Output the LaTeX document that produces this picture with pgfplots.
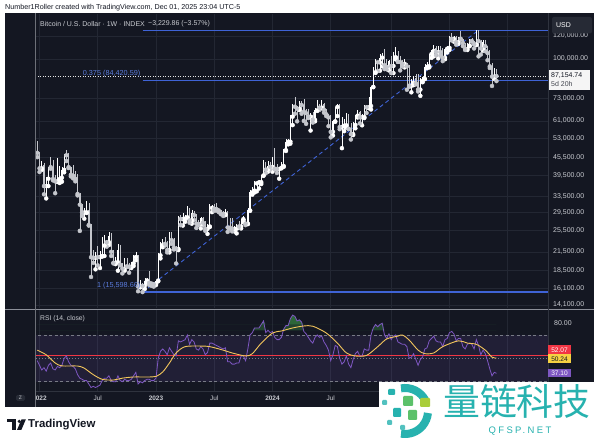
\documentclass[border=0pt]{standalone}
\usepackage{pgfplots}
\pgfplotsset{compat=1.18}
\usepackage{pgfplotstable}
\usepackage{fontspec}
\setmainfont{Liberation Sans}
\newfontfamily\cjk{Noto Sans CJK SC}
\newfontfamily\wmfont[LetterSpace=25]{Liberation Sans}
\definecolor{bg}{HTML}{141722}
\definecolor{gridc}{HTML}{232733}
\definecolor{txt}{HTML}{C9CBD1}
\definecolor{fibc}{HTML}{3F63D6}
\definecolor{fibtxt}{HTML}{5A7BDB}
\definecolor{rsic}{HTML}{7E57C2}
\definecolor{mac}{HTML}{F2C55C}
\definecolor{redl}{HTML}{F23645}
\definecolor{upc}{HTML}{FFFFFF}
\definecolor{downc}{HTML}{C4C6CC}
\definecolor{dashc}{HTML}{787B86}
\definecolor{greenf}{HTML}{3D9A4A}
\definecolor{wmteal}{HTML}{27B2AF}
\definecolor{wmgreen}{HTML}{5CC16A}
\definecolor{wmlime}{HTML}{A9CD3A}
\definecolor{sepc}{HTML}{8C8F99}
\definecolor{bordc}{HTML}{2F333E}
\definecolor{usdbg}{HTML}{262A35}
\definecolor{yelbox}{HTML}{F5D142}
\definecolor{tvdark}{HTML}{131722}
\newcommand{\fs}[1]{\fontsize{#1}{#1}\selectfont}

\pgfplotstableread{
w o h l c
-1 50800 52100 45700 47300
0 47300 47600 40600 41800
1 41800 44400 41300 43100
2 43100 43500 34000 36300
3 36300 38900 32900 38500
4 38500 42000 36300 42400
5 42400 45800 41700 42200
6 42200 44800 38000 38400
7 38400 39800 34300 37700
8 37700 45400 37500 38400
9 38400 42600 37200 38800
10 38800 42400 37600 41300
11 41300 47000 40500 46800
12 46800 48200 44300 46400
13 46400 47300 41900 42200
14 42200 42400 39200 39700
15 39700 42900 38600 39400
16 39400 40800 37700 38500
17 38500 40000 33700 34100
18 34100 34300 25400 31300
19 31300 31400 28600 29400
20 29400 30600 28000 29450
21 29450 32200 29300 29900
22 29900 31700 26500 26600
23 26600 26800 17600 20600
24 20600 21900 19700 20500
25 20500 21500 18700 20800
26 20800 22500 19300 20600
27 20600 21600 18900 20800
28 20800 24200 20700 22600
29 22600 24600 20800 23300
30 23300 23600 22400 23200
31 23200 25200 22700 24300
32 24300 25000 20800 21500
33 21500 21900 19600 19700
34 19700 20600 19500 19800
35 19800 22800 18500 21800
36 21800 22700 19300 19400
37 19400 19700 18100 18800
38 18800 20400 18500 19300
39 19300 20500 19050 19150
40 19150 19600 18200 19100
41 19100 19800 18900 19600
42 19600 21000 19200 20600
43 20600 21500 20100 20900
44 20900 21000 15700 16300
45 16300 17200 16200 16700
46 16700 16800 15600 16400
47 16400 17400 16000 17100
48 17100 17400 16800 17200
49 17200 18400 16500 16800
50 16800 16950 16400 16700
51 16700 16900 16300 16600
52 16600 17200 16500 17100
53 17100 21300 17000 20900
54 20900 23300 20400 22700
55 22700 23800 22300 23000
56 23000 24200 22600 22900
57 22900 23400 21400 21800
58 21800 25200 21400 24600
59 24600 25200 22900 23600
60 23600 24000 21900 22200
61 22200 22600 19600 22000
62 22000 28500 21800 28000
63 28000 28900 26600 27900
64 27900 29200 26500 28000
65 28000 28800 27300 28300
66 28300 31000 28200 30300
67 30300 30500 27100 27600
68 27600 30000 26900 29200
69 29200 29800 27700 28800
70 28800 29000 26000 26900
71 26900 27600 26600 26800
72 26800 28400 25900 28100
73 28100 28400 26500 27100
74 27100 27400 25400 25800
75 25800 26800 24800 26300
76 26300 31400 26200 30500
77 30500 31300 29500 30600
78 30600 31500 29800 30300
79 30300 31800 29900 30200
80 30200 30400 29500 29900
81 29900 30000 29000 29200
82 29200 29700 28600 29000
83 29000 30200 28800 29300
84 29300 29700 25200 26100
85 26100 28200 25800 26050
86 26050 28100 25300 25800
87 25800 26400 25300 25850
88 25850 26900 24900 26500
89 26500 27500 26000 26300
90 26300 28000 25900 27900
91 27900 28600 27200 27950
92 27950 28000 26600 26900
93 26900 30500 26800 29900
94 29900 35200 29800 34500
95 34500 35900 33900 35000
96 35000 37900 34500 37100
97 37100 37900 34800 37400
98 37400 38000 35600 37450
99 37450 39800 36900 39500
100 39500 44700 39400 43700
101 43700 43800 40200 41400
102 41400 44400 40700 42500
103 42500 43800 41400 42300
104 42300 45900 40700 43900
105 43900 49000 41500 41700
106 41700 43300 40300 41600
107 41600 42200 38500 42000
108 42000 43800 41800 42600
109 42600 48600 42300 48300
110 48300 52800 48000 51600
111 51600 52900 50600 51700
112 51700 64000 50900 63100
113 63100 70000 59000 68900
114 68900 73800 64600 68300
115 68300 68900 60800 67200
116 67200 71700 66500 69700
117 69700 71300 64600 69300
118 69300 72800 61000 65700
119 65700 66900 59600 64900
120 64900 67200 62400 63100
121 63100 64800 56500 64000
122 64000 65500 60200 61500
123 61500 67500 60800 66300
124 66300 71900 66100 69300
125 69300 70000 66600 67800
126 67800 71900 67500 69600
127 69600 70200 65100 66700
128 66700 67200 63400 64300
129 64300 64600 58500 62700
130 62700 63800 53500 55900
131 55900 61400 54300 60800
132 60800 68300 60600 68200
133 68200 70000 63400 68300
134 68300 70000 57100 58100
135 58100 62700 49100 58700
136 58700 61800 56200 58900
137 58900 65000 57800 64200
138 64200 64500 57200 57300
139 57300 59800 52600 54900
140 54900 60600 54500 59100
141 59100 64100 57500 63600
142 63600 66500 62700 65600
143 65600 66000 59800 62800
144 62800 64500 58900 62900
145 62900 69400 62400 69000
146 69000 69500 65000 68000
147 68000 73600 67500 68700
148 68700 80300 66800 80000
149 80000 93400 79800 89800
150 89800 99600 89400 97900
151 97900 98700 90800 97300
152 97300 104000 91000 101000
153 101000 105000 94200 104500
154 104500 108300 92200 95100
155 95100 99900 92000 93700
156 93700 99000 91200 98400
157 98400 102700 89300 94500
158 94500 106000 89300 101300
159 101300 109600 99600 102600
160 102600 106400 97600 97700
161 97700 102500 91200 97500
162 97500 98800 94100 96100
163 96100 99500 93400 96300
164 96300 96500 78200 94300
165 94300 95000 80000 80700
166 80700 85300 76600 82600
167 82600 87500 81100 86100
168 86100 88800 81600 82400
169 82400 88500 77100 78300
170 78300 86000 74500 83800
171 83800 86500 83000 85200
172 85200 95800 85100 93800
173 93800 97900 92800 94300
174 94300 104300 93400 104000
175 104000 107000 100800 106500
176 106500 112000 102000 109000
177 109000 110700 103100 105600
178 105600 110500 100400 105700
179 105700 110600 102700 105500
180 105500 108900 98200 100900
181 100900 108800 99700 108400
182 108400 110500 105200 109200
183 109200 119500 107400 119100
184 119100 123200 115800 117300
185 117300 120200 114700 119400
186 119400 119800 112000 114200
187 114200 119400 112700 119300
188 119300 124500 116800 117400
189 117400 117600 110700 113500
190 113500 113600 107300 108200
191 108200 113400 107300 111200
192 111200 116800 110600 115300
193 115300 118000 114800 115200
194 115200 115400 108600 112200
195 112200 125500 111600 123500
196 123500 125714 102000 115200
197 115200 116000 103500 108700
198 108700 116000 106700 114500
199 114500 116400 106300 110600
200 110600 111200 98900 104700
201 104700 107500 93000 94200
202 94200 96600 80600 86800
203 86800 93100 85300 90385
204 90385 91900 83800 87155
}\candles

\pgfplotstableread{
w r
-1 48
0 44
1 40
2 42
3 39
4 44
5 46
6 41
7 40
8 43
9 42
10 44
11 50
12 52
13 47
14 44
15 43
16 41
17 36
18 33
19 32
20 31
21 31
22 28
23 25
24 26
25 25
26 26
27 27
28 31
29 33
30 33
31 35
32 31
33 30
34 30
35 35
36 31
37 30
38 32
39 31
40 31
41 32
42 35
43 38
44 28
45 30
46 29
47 31
48 32
49 32
50 31
51 31
52 33
53 50
54 56
55 58
56 56
57 53
58 59
59 56
60 53
61 52
62 65
63 64
64 65
65 66
66 70
67 62
68 66
69 64
70 58
71 57
72 60
73 58
74 53
75 55
76 63
77 63
78 62
79 61
80 60
81 59
82 58
83 59
84 47
85 47
86 45
87 45
88 46
89 46
90 52
91 52
92 48
93 58
94 70
95 72
96 76
97 76
98 76
99 79
100 82
101 72
102 74
103 72
104 73
105 68
106 66
107 66
108 68
109 75
110 78
111 78
112 84
113 87
114 86
115 82
116 83
117 81
118 73
119 71
120 68
121 65
122 63
123 68
124 70
125 68
126 69
127 64
128 61
129 57
130 48
131 53
132 61
133 60
134 50
135 45
136 47
137 52
138 45
139 42
140 49
141 54
142 56
143 52
144 52
145 58
146 57
147 57
148 70
149 76
150 79
151 77
152 79
153 80
154 70
155 67
156 71
157 66
158 69
159 70
160 64
161 63
162 62
163 62
164 60
165 50
166 51
167 54
168 49
169 44
170 49
171 51
172 58
173 59
174 65
175 67
176 69
177 65
178 64
179 64
180 60
181 66
182 67
183 72
184 73
185 71
186 65
187 67
188 67
189 60
190 58
191 62
192 63
193 62
194 58
195 66
196 61
197 53
198 57
199 54
200 48
201 41
202 35
203 38
204 37.1
}\rsidata

\pgfplotstableread{
w m
-1 57
3 53
7 46
10 43.5
17 43.4
20 41.5
24 36
28 32
33 31.4
37 33
42 34
48 34
52 34.5
55 38.3
58 46
61 54.6
65 60
72 60.5
76 60
82 57
86 54.6
92 52
95 54
99 63
104 71.7
108 73.4
113 76
118 77.7
122 77.5
128 71.7
133 63
137 54.6
141 52
146 52.5
151 60
155 66.6
160 69
162 70
165 65.7
169 57
172 54
176 54.6
180 60
187 65
191 63
195 62
199 57
202 51
204 50.24
}\madata

\begin{document}
\begin{tikzpicture}[x=1bp,y=1bp]
\useasboundingbox (0,0) rectangle (600,442);
\fill[white] (0,0) rectangle (600,442);
\fill[bg] (5,35) rectangle (594,428.5);

% ---------------- main price pane ----------------
\begin{axis}[
  at={(35bp,134bp)}, anchor=south west, scale only axis,
  width=513bp, height=294bp,
  xmin=-2.009, xmax=227,
  ymin=9.52836, ymax=11.87050,
  axis line style={draw=none},
  xtick={0,26,52,78,104,130,157,183,209}, xticklabels={},
  ytick={9.553930,9.686575,9.825526,9.975808,10.146434,10.292146,10.419301,10.584056,10.725467,10.878047,11.018629,11.198215,11.512925,11.695247},
  yticklabels={{14,100.00},{16,100.00},{18,500.00},{21,500.00},{25,500.00},{29,500.00},{33,500.00},{39,500.00},{45,500.00},{53,000.00},{61,000.00},{73,000.00},{100,000.00},{120,000.00}},
  yticklabel pos=right,
  yticklabel style={anchor=west, inner sep=0pt, xshift=5bp, text=txt, font=\fs{7}},
  major tick length=0pt,
  xmajorgrids, ymajorgrids,
  major grid style={gridc, line width=0.5bp},
]
% Fibonacci levels
\addplot[fibc, line width=1.2bp] table[row sep=\\, x=w, y expr={ln(\thisrow{p})}] {w p\\ 46 125714\\ 228 125714\\};
\addplot[fibc, line width=1.2bp] table[row sep=\\, x=w, y expr={ln(\thisrow{p})}] {w p\\ 46 84420.59\\ 228 84420.59\\};
\addplot[fibc, line width=1.2bp] table[row sep=\\, x=w, y expr={ln(\thisrow{p})}] {w p\\ 46 15598.66\\ 228 15598.66\\};
\addplot[fibc, line width=0.9bp, dash pattern=on 4bp off 3bp] table[row sep=\\, x=w, y expr={ln(\thisrow{p})}] {w p\\ 46 15598.66\\ 196 125714\\};
% current price line
\addplot[white!80!gray, line width=0.5bp, dash pattern=on 1bp off 1.5bp] table[row sep=\\, x=w, y expr={ln(\thisrow{p})}] {w p\\ -3 87154.74\\ 228 87154.74\\};
% wicks (rows of the other colour are sent below the axis, where they are clipped)
\addplot[color=upc, only marks, mark=none, error bars/.cd, y dir=plus, y explicit, error mark=none,
  error bar style={line width=0.55bp, color=upc, line cap=butt}]
  table[x=w, y expr={\thisrow{c}>\thisrow{o} ? ln(\thisrow{l}) : 1}, y error plus expr={\thisrow{c}>\thisrow{o} ? ln(\thisrow{h})-ln(\thisrow{l}) : 0}] {\candles};
\addplot[color=downc, only marks, mark=none, error bars/.cd, y dir=plus, y explicit, error mark=none,
  error bar style={line width=0.55bp, color=downc, line cap=butt}]
  table[x=w, y expr={\thisrow{c}<\thisrow{o} ? ln(\thisrow{l}) : 1}, y error plus expr={\thisrow{c}<\thisrow{o} ? ln(\thisrow{h})-ln(\thisrow{l}) : 0}] {\candles};
% bodies
\addplot[color=upc, only marks, mark=none, error bars/.cd, y dir=plus, y explicit, error mark=none,
  error bar style={line width=1.2bp, color=upc, line cap=butt}]
  table[x=w, y expr={\thisrow{c}>\thisrow{o} ? ln(\thisrow{o}) : 1}, y error plus expr={\thisrow{c}>\thisrow{o} ? ln(\thisrow{c})-ln(\thisrow{o}) : 0}] {\candles};
\addplot[color=downc, only marks, mark=none, error bars/.cd, y dir=plus, y explicit, error mark=none,
  error bar style={line width=1.2bp, color=downc, line cap=butt}]
  table[x=w, y expr={\thisrow{c}<\thisrow{o} ? ln(\thisrow{c}) : 1}, y error plus expr={\thisrow{c}<\thisrow{o} ? ln(\thisrow{o})-ln(\thisrow{c}) : 0}] {\candles};
\end{axis}

% ---------------- RSI pane ----------------
\begin{axis}[
  at={(35bp,51bp)}, anchor=south west, scale only axis,
  width=513bp, height=81bp,
  xmin=-2.009, xmax=227, ymin=22, ymax=91.4,
  axis line style={draw=none},
  xtick={0,26,52,78,104,130,157,183,209},
  xticklabels={\textbf{2022},Jul,\textbf{2023},Jul,\textbf{2024},Jul,{},{},{}},
  xticklabel style={anchor=center, yshift=-7bp, inner sep=0pt, text=txt, font=\fs{6.5}},
  ytick={80}, yticklabels={},
  major tick length=0pt,
  xmajorgrids, major grid style={gridc, line width=0.5bp},
]
\addplot[fill=rsic, fill opacity=0.13, draw=none] coordinates {(-3,30) (228,30) (228,70) (-3,70)} -- cycle;
\addplot[draw=dashc, dash pattern=on 3bp off 2.5bp, line width=0.5bp] coordinates {(-3,70) (228,70)};
\addplot[draw=dashc, dash pattern=on 3bp off 2.5bp, line width=0.5bp] coordinates {(-3,30) (228,30)};
\addplot[draw=dashc, dash pattern=on 1bp off 2bp, line width=0.4bp] coordinates {(-3,50) (228,50)};
\addplot[redl, line width=1bp] coordinates {(-3,52.07) (228,52.07)};
\addplot[fill=greenf, fill opacity=0.35, draw=none] table[x=w, y expr={\thisrow{r}<74 ? 74 : \thisrow{r}}] {\rsidata} -- cycle;
\addplot[fill=greenf, fill opacity=0.4, draw=none] table[x=w, y expr={\thisrow{r}<79 ? 79 : \thisrow{r}}] {\rsidata} -- cycle;
\addplot[rsic, line width=0.8bp] table[x=w,y=r] {\rsidata};
\addplot[mac, line width=0.9bp, smooth, tension=0.5] table[x=w,y=m] {\madata};
\end{axis}

% ---------------- frame lines ----------------
\draw[sepc, line width=0.8bp] (5,133) -- (594,133);
\draw[bordc, line width=0.6bp] (5,51) -- (594,51);
\draw[bordc, line width=0.6bp] (548,35) -- (548,428.5);
\draw[bordc!70!white, line width=0.6bp] (35,35) -- (35,428.5);
\fill[bg] (5,36) rectangle (34.6,50.5);
\fill[usdbg, rounded corners=1.5bp] (16,41) rectangle (25,47);
\node[text=txt, inner sep=0pt] at (20.5,44) {\fs{5}Z};

% ---------------- texts ----------------
\node[anchor=west, inner sep=0pt, text=tvdark] at (5,434) {\fs{7.2}Number1Roller created with TradingView.com, Dec 01, 2025 23:04 UTC-5};
\node[anchor=west, inner sep=0pt, text=txt] at (40,418) {\fs{7}Bitcoin / U.S. Dollar · 1W · INDEX};
\node[anchor=west, inner sep=0pt, text=txt] at (148,418) {\fs{7}−3,229.86 (−3.57\%)};
\node[anchor=east, inner sep=0pt, text=fibtxt] at (140.5,368) {\fs{7.3}0.375 (84,420.59)};
\node[anchor=east, inner sep=0pt, text=fibtxt] at (140.5,156) {\fs{7.3}1 (15,598.66)};
\node[anchor=west, inner sep=0pt, text=txt] at (40,123) {\fs{6.8}RSI (14, close)};

% price scale labels
\fill[usdbg, rounded corners=2bp] (552,408.5) rectangle (592,425);
\node[anchor=west, inner sep=0pt, text=white] at (556,417) {\fs{7}USD};
\fill[white!92!gray] (549,352) rectangle (590,372);
\node[anchor=west, inner sep=0pt, text=tvdark] at (551,366) {\fs{7}87,154.74};
\node[anchor=west, inner sep=0pt, text=tvdark!80!white] at (551,357.5) {\fs{7}5d 20h};

% RSI scale labels
\node[anchor=west, inner sep=0pt, text=txt] at (554,119) {\fs{7}80.00};
\fill[redl] (548,88) rectangle (571,96.5);
\node[text=white, inner sep=0pt] at (559.5,92.2) {\fs{6.6}52.07};
\fill[yelbox] (548,79) rectangle (571,87.5);
\node[text=tvdark, inner sep=0pt] at (559.5,83.2) {\fs{6.6}50.24};
\fill[rsic] (548,64.5) rectangle (571,73);
\node[text=white, inner sep=0pt] at (559.5,68.7) {\fs{6.6}37.10};

% ---------------- TradingView brand ----------------
\fill[tvdark] (7,19.5) rectangle (16,22.5);
\fill[tvdark] (11.5,12) rectangle (15.5,22.5);
\fill[tvdark] (19.3,20.6) circle (1.7);
\fill[tvdark] (17,12) -- (21.3,12) -- (25.8,22.5) -- (21.5,22.5) -- cycle;
\node[anchor=west, inner sep=0pt, text=tvdark] at (28,17) {\fs{11.5}\bfseries TradingView};

% ---------------- watermark ----------------
\fill[white] (379,0) rectangle (600,60);
\draw[wmteal, line width=8bp] ([shift={(-100:23)}]405,31) arc[start angle=-100, end angle=-5, radius=23];
\draw[wmteal, line width=8bp] ([shift={(28:23)}]405,31) arc[start angle=28, end angle=100, radius=23];
\fill[wmteal, rounded corners=1bp] (388,47) rectangle (395,53);
\fill[wmteal!80!white, rounded corners=1bp] (382,37) rectangle (387,42);
\fill[wmgreen, rounded corners=1bp] (403,36) rectangle (413,46);
\fill[wmlime, rounded corners=1bp] (420,35) rectangle (430,44);
\fill[wmteal, rounded corners=1bp] (393,25) rectangle (401,34);
\fill[wmgreen, rounded corners=1bp] (408,22) rectangle (417,32);
\fill[wmteal!80!white, rounded corners=1bp] (387,17) rectangle (392,22);
\fill[wmteal!80!white, rounded corners=1bp] (400,12) rectangle (405,17);
\node[anchor=west, inner sep=0pt, text=wmteal] at (443,41) {\cjk\fs{37}量链科技};
\node[inner sep=0pt, text=wmteal] at (520,11) {\wmfont\fs{9.5}QFSP.NET};
\end{tikzpicture}
\end{document}
